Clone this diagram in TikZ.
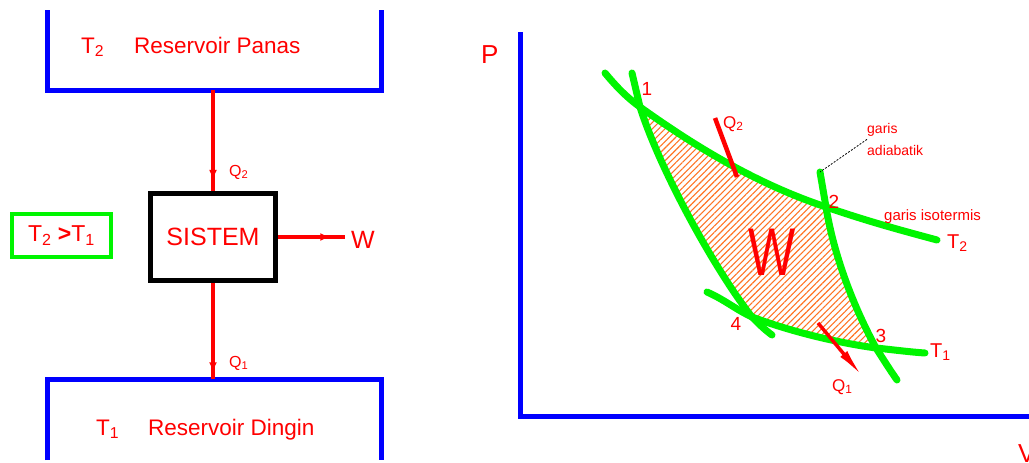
\documentclass[tikz,border=0pt]{standalone}
\usepackage{fontspec}
\setmainfont{Liberation Sans}
\usetikzlibrary{arrows.meta,decorations.markings,patterns.meta}
\definecolor{wallblue}{RGB}{0,0,255}
\definecolor{curvegreen}{RGB}{0,245,0}
\definecolor{textred}{RGB}{255,0,0}
\definecolor{hatchorange}{RGB}{255,115,35}
\newcommand\pxfont[1]{\fontsize{#1}{#1}\selectfont}

\begin{document}
\begin{tikzpicture}[x=1pt,y=-1pt]
\tikzset{
  wall/.style={wallblue,line width=5pt,line join=miter},
  redtext/.style={text=textred,inner sep=0pt},
  sysbox/.style={draw=black,line width=5pt,minimum width=125pt,minimum height=87pt,inner sep=0pt,text=textred,font=\pxfont{25}},
  condbox/.style={draw=curvegreen,line width=4pt,minimum width=99pt,minimum height=43pt,inner sep=0pt,text=textred,font=\pxfont{23}},
  flow/.style={textred,line width=4pt,postaction={decorate},
    decoration={markings,mark=at position #1 with {\arrow{Latex[length=10pt,width=8pt]}}}},
  heat/.style={textred,line width=4.5pt},
  curve/.style={curvegreen,line width=7pt,line cap=round},
  axisline/.style={wallblue,line width=5pt,line join=miter},
  work/.style={pattern={Lines[angle=45,distance=4.5pt,line width=1.1pt]},pattern color=hatchorange},
  leader/.style={black,line width=0.8pt,dash pattern=on 2pt off 1.5pt}
}
\useasboundingbox (0,0) rectangle (1029,463);
\coordinate (n_hotmid) at (213,90);
\coordinate (n_coldmid) at (213,379);
\draw[wall] (47,10) -- (47,90) -- (381,90) -- (381,10);
\draw[wall] (47,460) -- (47,379) -- (381,379) -- (381,460);
\node[redtext,anchor=base west,font=\pxfont{22.5}] (n_hotT) at (81,53) {T\textsubscript{2}};
\node[redtext,anchor=base west,font=\pxfont{22.5}] (n_hotname) at (134,53) {Reservoir Panas};
\node[redtext,anchor=base west,font=\pxfont{22.5}] (n_coldT) at (96,435) {T\textsubscript{1}};
\node[redtext,anchor=base west,font=\pxfont{22.5}] (n_coldname) at (148,435) {Reservoir Dingin};
\node[sysbox] (n_sys) at (213,237) {SISTEM};
\node[condbox] (n_cond) at (61.5,235.5) {T\textsubscript{2} \textbf{>}T\textsubscript{1}};
\coordinate (n_wend) at (345,237);
\draw[flow=0.89] (n_hotmid) -- (n_sys.north);
\draw[flow=0.93] (n_sys.south) -- (n_coldmid);
\draw[flow=0.78] (n_sys.east) -- (n_wend);
\node[redtext,anchor=base west,font=\pxfont{25}] (n_wleft) at (351,248) {W};
\node[redtext,anchor=base west,font=\pxfont{16}] (n_q2left) at (229,176) {Q\textsubscript{2}};
\node[redtext,anchor=base west,font=\pxfont{16}] (n_q1left) at (229,367) {Q\textsubscript{1}};

\coordinate (n_ptop) at (520,32);
\coordinate (n_origin) at (520,416);
\coordinate (n_vend) at (1029,416);
\draw[axisline] (n_ptop) -- (n_origin) -- (n_vend);
\node[redtext,anchor=base west,font=\pxfont{26}] (n_p) at (481,63) {P};
\node[redtext,anchor=base west,font=\pxfont{26}] (n_v) at (1018,462) {V};

\coordinate (c_1) at (640,107);
\coordinate (c_2) at (826,207);
\coordinate (c_3) at (876,348);
\coordinate (c_4) at (752,317);
\coordinate (c_hs) at (605,73);
\coordinate (c_he) at (937,240);
\coordinate (c_ls) at (707,292);
\coordinate (c_le) at (925,353);
\coordinate (c_as) at (632,73);
\coordinate (c_ae) at (772,335);
\coordinate (c_bs) at (820,172);
\coordinate (c_be) at (897,380);
\fill[work] (c_1) .. controls (700,150) and (760,185) .. (c_2)
  .. controls (833,250) and (850,300) .. (c_3)
  .. controls (840,343) and (795,333) .. (c_4)
  .. controls (715,270) and (660,170) .. (c_1) -- cycle;
\draw[curve] (c_hs) .. controls (615,85) and (625,96) .. (c_1)
  .. controls (700,150) and (760,185) .. (c_2)
  .. controls (870,222) and (900,230) .. (c_he);
\draw[curve] (c_ls) .. controls (725,300) and (735,309) .. (c_4)
  .. controls (795,333) and (840,343) .. (c_3)
  .. controls (895,350) and (910,352) .. (c_le);
\draw[curve] (c_as) -- (c_1) .. controls (660,170) and (715,270) .. (c_4)
  .. controls (760,325) and (765,330) .. (c_ae);
\draw[curve] (c_bs) -- (c_2) .. controls (833,250) and (850,300) .. (c_3)
  .. controls (885,362) and (890,370) .. (c_be);

\coordinate (n_q2a) at (715,118);
\coordinate (n_q2b) at (737,177);
\coordinate (n_q1a) at (818,323);
\coordinate (n_q1b) at (863,377);
\draw[heat] (n_q2a) -- (n_q2b);
\draw[heat,line width=3.5pt,-{Latex[length=30pt,width=9pt]}] (n_q1a) -- (n_q1b);
\node[redtext,anchor=base west,font=\pxfont{17}] (n_q2) at (723,128) {Q\textsubscript{2}};
\node[redtext,anchor=base west,font=\pxfont{17}] (n_q1) at (832,391) {Q\textsubscript{1}};
\node[redtext,anchor=base west,font=\pxfont{20}] (n_t2) at (947,248) {T\textsubscript{2}};
\node[redtext,anchor=base west,font=\pxfont{20}] (n_t1) at (930,357) {T\textsubscript{1}};
\node[redtext,anchor=base,font=\pxfont{19}] (n_pt1) at (647,95) {1};
\node[redtext,anchor=base,font=\pxfont{19}] (n_pt2) at (834,208) {2};
\node[redtext,anchor=base,font=\pxfont{19}] (n_pt3) at (881,342) {3};
\node[redtext,anchor=base,font=\pxfont{19}] (n_pt4) at (736,330) {4};
\node[redtext,font=\pxfont{50}] (n_w) at (772,252) {\scalebox{1}[1.35]{W}};
\node[redtext,anchor=north west,align=left,font=\fontsize{14}{22}\selectfont] (n_adia) at (867,123) {garis\\adiabatik};
\node[redtext,anchor=base west,font=\pxfont{15}] (n_iso) at (884,220) {garis isotermis};
\draw[leader] (n_adia.west) -- (c_bs);
\end{tikzpicture}
\end{document}
